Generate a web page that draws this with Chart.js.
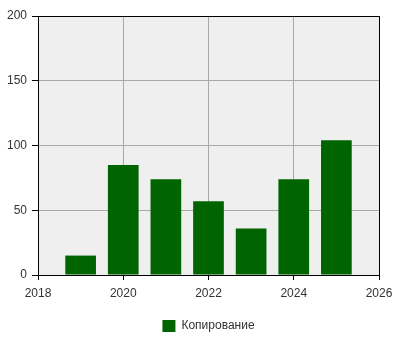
<!DOCTYPE html>
<html><head><meta charset="utf-8">
<script src="https://cdn.jsdelivr.net/npm/chart.js@4"></script>
<style>html,body{margin:0;padding:0;background:#fff}#w{width:400px;height:350px}</style>
</head><body><div id="w"><canvas id="c"></canvas></div>
<script>
const years = [2019, 2020, 2021, 2022, 2023, 2024, 2025];
const values = [15, 85, 74, 57, 36, 74, 104];
const seriesName = 'Копирование';

const framePlugin = {
  id: 'frame',
  beforeDraw(chart) {
    const a = chart.chartArea, ctx = chart.ctx;
    ctx.save(); ctx.fillStyle = '#efefef';
    ctx.fillRect(a.left, a.top, a.right - a.left, a.bottom - a.top);
    ctx.restore();
  },
  afterDatasetsDraw(chart) {
    const a = chart.chartArea, ctx = chart.ctx;
    ctx.save(); ctx.strokeStyle = '#000'; ctx.lineWidth = 1;
    ctx.strokeRect(Math.round(a.left) + 0.5, Math.round(a.top) + 0.5, Math.round(a.right - a.left), Math.round(a.bottom - a.top));
    ctx.restore();
  }
};

new Chart(document.getElementById('c'), {
  type: 'bar',
  data: {
    datasets: [{
      label: seriesName,
      data: years.map((y, i) => ({x: y, y: values[i]})),
      backgroundColor: '#006400',
      borderWidth: 0
    }]
  },
  options: {
    responsive: true, maintainAspectRatio: false, animation: false,
    layout: {padding: {top: 16, right: 21, bottom: 8, left: 0}},
    font: {family: 'Liberation Sans', size: 11},
    scales: {
      x: {
        type: 'linear', min: 2018, max: 2026, offset: false,
        afterFit(s) { s.height = 35; },
        ticks: {stepSize: 2, color: '#333', padding: 6, font: {family: 'Liberation Sans', size: 12}, callback: v => String(v)},
        grid: {offset: false, color: '#a8a8a8', tickColor: '#000', tickLength: 5},
        border: {color: '#000'}
      },
      y: {
        min: 0, max: 200,
        afterFit(s) { s.width = 38; },
        ticks: {stepSize: 50, color: '#333', padding: 5, font: {family: 'Liberation Sans', size: 12}},
        grid: {color: '#a8a8a8', tickColor: '#000', tickLength: 6},
        border: {color: '#000'}
      }
    },
    plugins: {
      legend: {position: 'bottom', fullSize: false, labels: {boxWidth: 13, boxHeight: 12, padding: 10, color: '#333', font: {family: 'Liberation Sans', size: 12}}},
      tooltip: {enabled: false}
    }
  },
  plugins: [framePlugin]
});
</script></body></html>
